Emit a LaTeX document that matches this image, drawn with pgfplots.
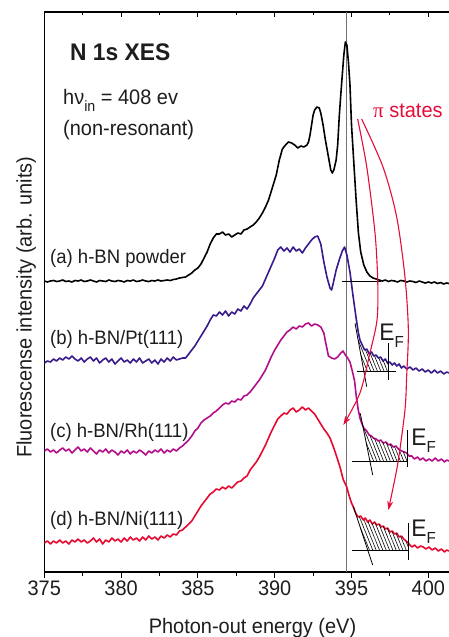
\documentclass[border=0pt]{standalone}
\usepackage{fontspec}
\setmainfont{Liberation Sans}[FakeStretch=0.95]
\newfontfamily\serifgr{Liberation Serif}
\usepackage{pgfplots}
\pgfplotsset{compat=1.18}
\usetikzlibrary{arrows.meta,patterns.meta}
\definecolor{cB}{RGB}{56,26,140}
\definecolor{cC}{RGB}{179,14,138}
\definecolor{cD}{RGB}{230,10,48}
\definecolor{cR}{RGB}{230,12,58}
\definecolor{txt}{RGB}{30,28,28}
\newcommand\fs[1]{\fontsize{#1}{#1}\selectfont}
\begin{document}
\begin{tikzpicture}
\pgfplotsset{common/.style={scale only axis, width=407.2pt, height=560pt,
  xmin=375, xmax=401.51, ymin=12, ymax=572, y dir=reverse,
  xtick={375,380,...,400}, minor x tick num=1, ytick=\empty,
  major tick length=5.5pt, minor tick length=3.5pt,
  tick style={line width=1pt, black}, no markers}}
\begin{axis}[common, name=ax, axis line style={line width=1.2pt},
  tick align=outside, xtick pos=left,
  /pgf/number format/assume math mode=true,
  xticklabel style={font=\fs{21}, text=txt},
  xlabel={Photon-out energy (eV)},
  xlabel style={font=\fs{21}, text=txt, at={(axis description cs:0.5113,-0.109)}, anchor=base},
  ylabel={Fluorescense intensity (arb. units)},
  ylabel style={font=\fs{21}, text=txt, at={(axis description cs:-0.0309,0.473)}, anchor=base},
  every axis plot/.append style={line join=round}]
% vertical reference line
\addplot[black!55, line width=1.1pt] coordinates {(394.65,12) (394.65,572)};
% (a) h-BN powder
\addplot[black, line width=1.6pt] coordinates {
(375.0,281)(375.2,282)(375.4,281)(375.6,280.5)(375.8,281.5)(376.0,281)(376.2,280)(376.4,281.5)(376.6,281)(376.8,282)
(377.0,280.5)(377.2,281)(377.4,280)(377.6,281.5)(377.8,281)(378.0,280)(378.2,281)(378.4,282)(378.6,280.5)(378.8,281)
(379.0,281.5)(379.2,280)(379.4,281)(379.6,281.5)(379.8,280.5)(380.0,281)(380.2,282)(380.4,280.5)(380.6,281)(380.8,280)
(381.0,281.5)(381.2,281)(381.4,280)(381.6,281)(381.8,281.5)(382.0,280.5)(382.2,281)(382.4,280)(382.6,281)(382.8,280.5)
(383.0,280)(383.2,280.5)(383.4,279.5)(383.6,279)(383.8,278)(384.0,277.5)(384.2,277)(384.4,275)(384.6,273)(384.8,270)
(385.0,268)(385.2,264)(385.4,258)(385.6,252)(385.8,244)(386.0,238)(386.2,234)(386.4,234)(386.6,232)(386.8,235)
(387.0,234)(387.2,237)(387.4,235)(387.6,233)(387.8,234)(388.0,230)(388.2,229)(388.4,227)(388.6,225)(388.8,222)
(389.0,218)(389.2,213)(389.4,207)(389.6,200)(389.8,190)(390.0,180)(390.1,175)(390.3,160)(390.5,149)(390.7,145)
(390.9,142)(391.1,143)(391.3,145)(391.5,148)(391.7,146)(391.9,147)(392.1,145)(392.2,142)(392.3,135)(392.4,125)
(392.5,115)(392.6,110)(392.75,107)(392.9,108)(393.0,113)(393.15,125)(393.3,140)(393.5,157)(393.65,170)(393.75,173)
(393.85,170)(394.0,160)(394.1,145)(394.2,117)(394.3,95)(394.4,75)(394.5,55)(394.6,42)(394.7,45)(394.8,62)
(394.9,85)(395.0,125)(395.1,150)(395.2,175)(395.3,200)(395.45,233)(395.6,252)(395.8,265)(396.0,272)(396.2,276)
(396.4,278)(396.6,279)(396.8,280)(397.0,281)(397.2,280)(397.4,281.5)(397.6,280.5)(397.8,281)(398.0,282)(398.2,280.5)
(398.4,281)(398.6,282)(398.8,281)(399.0,281.5)(399.2,282.5)(399.4,281)(399.6,282)(399.8,283)(400.0,282)(400.2,283)
(400.4,282)(400.6,283.5)(400.8,282.5)(401.0,284)(401.2,283)(401.35,283.5)};
% (b) h-BN/Pt(111)
\addplot[cB, line width=1.6pt] coordinates {
(375.0,363)(375.2,361)(375.4,362)(375.6,359)(375.8,361)(376.0,358)(376.2,360)(376.4,357)(376.6,359)(376.8,356)
(377.0,359)(377.2,361)(377.4,358)(377.6,362)(377.8,359)(378.0,357)(378.2,361)(378.4,358)(378.6,363)(378.8,360)
(379.0,358)(379.2,362)(379.4,359)(379.6,364)(379.8,361)(380.0,358)(380.2,362)(380.4,360)(380.6,363)(380.8,359)
(381.0,362)(381.2,358)(381.4,363)(381.6,361)(381.8,359)(382.0,363)(382.2,360)(382.4,364)(382.6,359)(382.8,362)
(383.0,358)(383.2,361)(383.4,357)(383.6,360)(383.8,359)(384.0,358)(384.2,358)(384.4,354)(384.6,350)(384.8,346)
(385.0,341)(385.2,336)(385.4,331)(385.6,326)(385.8,320)(386.0,315)(386.2,316)(386.4,312)(386.6,315)(386.8,311)
(387.0,316)(387.2,312)(387.4,314)(387.6,309)(387.8,311)(388.0,306)(388.2,309)(388.4,304)(388.6,298)(388.8,294)
(389.0,290)(389.2,286)(389.4,279)(389.6,272)(389.8,265)(390.0,258)(390.2,250)(390.4,247)(390.6,251)(390.8,248)
(391.0,252)(391.2,247)(391.4,251)(391.6,249)(391.8,253)(392.0,248)(392.2,244)(392.4,240)(392.6,237)(392.8,236)
(393.0,244)(393.2,262)(393.4,277)(393.6,288)(393.7,290)(393.8,284)(394.0,270)(394.2,260)(394.4,251)(394.55,247)
(394.7,255)(394.9,272)(395.1,296)(395.3,318)(395.45,333)(395.55,340)(395.7,345)(395.85,350)(396.0,349)(396.15,354)
(396.3,352)(396.45,356)(396.6,355)(396.75,358)(396.9,357)(397.05,361)(397.2,359)(397.35,363)(397.5,362)(397.65,365)
(397.8,363)(397.95,366)(398.1,364)(398.25,368)(398.4,366)(398.6,369)(398.8,367)(399.0,370)(399.2,368)(399.4,371)
(399.6,369)(399.8,372)(400.0,370)(400.2,373)(400.4,370)(400.6,373)(400.8,371)(401.0,374)(401.2,372)(401.35,373)};
% (c) h-BN/Rh(111)
\addplot[cC, line width=1.6pt] coordinates {
(375.0,451)(375.2,449)(375.4,452)(375.6,450)(375.8,453)(376.0,450)(376.2,448)(376.4,451)(376.6,449)(376.8,453)
(377.0,450)(377.2,447)(377.4,451)(377.6,449)(377.8,452)(378.0,448)(378.2,451)(378.4,454)(378.6,450)(378.8,452)
(379.0,449)(379.2,453)(379.4,450)(379.6,452)(379.8,455)(380.0,451)(380.2,453)(380.4,450)(380.6,454)(380.8,451)
(381.0,453)(381.2,450)(381.4,452)(381.6,455)(381.8,451)(382.0,453)(382.2,450)(382.4,452)(382.6,449)(382.8,453)
(383.0,450)(383.2,452)(383.4,449)(383.6,451)(383.8,448)(384.0,446)(384.2,443)(384.4,440)(384.6,436)(384.8,431)
(385.0,428)(385.2,423)(385.4,420)(385.6,418)(385.8,416)(386.0,413)(386.2,411)(386.4,408)(386.6,405)(386.8,403)
(387.0,404)(387.2,401)(387.4,402)(387.6,399)(387.8,400)(388.0,396)(388.2,395)(388.4,392)(388.6,388)(388.8,384)
(389.0,380)(389.2,375)(389.4,370)(389.6,363)(389.8,356)(390.0,350)(390.2,345)(390.4,340)(390.6,336)(390.8,332)
(391.0,330)(391.2,327)(391.4,329)(391.6,326)(391.8,327)(392.0,324)(392.2,323)(392.4,326)(392.6,324)(392.8,325)
(393.0,327)(393.2,333)(393.35,345)(393.5,356)(393.7,358)(393.9,359)(394.1,357)(394.3,353)(394.45,351)(394.6,355)
(394.75,358)(394.9,362)(395.0,368)(395.1,374)(395.2,381)(395.3,395)(395.44,410)(395.55,418)(395.66,423)(395.8,428)
(395.99,431)(396.15,435)(396.3,436)(396.42,438)(396.6,439)(396.75,441)(396.9,440)(397.07,443)(397.25,442)(397.4,445)
(397.55,444)(397.72,447)(397.9,446)(398.05,449)(398.27,451)(398.45,452)(398.59,453)(398.75,456)(398.92,456)(399.1,459)
(399.3,457)(399.46,460)(399.65,458)(399.85,461)(400.05,459)(400.25,461)(400.45,458)(400.65,461)(400.85,459)(401.05,462)
(401.2,460)(401.35,461)};
% (d) h-BN/Ni(111)
\addplot[cD, line width=1.6pt] coordinates {
(375.0,543)(375.2,541)(375.4,544)(375.6,541)(375.8,543)(376.0,540)(376.2,543)(376.4,541)(376.6,544)(376.8,540)
(377.0,542)(377.2,539)(377.4,542)(377.6,540)(377.8,543)(378.0,541)(378.2,538)(378.4,542)(378.6,539)(378.8,544)
(379.0,540)(379.2,542)(379.4,538)(379.6,541)(379.8,539)(380.0,542)(380.2,538)(380.4,541)(380.6,537)(380.8,540)
(381.0,538)(381.2,541)(381.4,537)(381.6,540)(381.8,536)(382.0,539)(382.2,537)(382.4,540)(382.6,536)(382.8,538)
(383.0,535)(383.2,537)(383.4,534)(383.6,535)(383.8,531)(384.0,530)(384.2,527)(384.4,524)(384.6,521)(384.8,516)
(385.0,511)(385.2,506)(385.4,502)(385.6,498)(385.8,494)(386.0,492)(386.2,489)(386.4,490)(386.6,487)(386.8,489)
(387.0,486)(387.2,488)(387.4,485)(387.6,482)(387.8,481)(388.0,478)(388.2,476)(388.4,470)(388.6,466)(388.8,462)
(389.0,457)(389.2,451)(389.4,445)(389.6,438)(389.8,431)(390.0,425)(390.2,419)(390.4,416)(390.6,413)(390.8,414)
(391.0,410)(391.2,408)(391.4,412)(391.6,410)(391.8,407)(392.0,410)(392.2,408)(392.4,411)(392.6,414)(392.8,419)
(393.0,424)(393.2,429)(393.4,433)(393.6,438)(393.8,446)(394.0,455)(394.25,467)(394.47,480)(394.6,484)(394.69,487)
(394.85,496)(395.0,503)(395.12,507)(395.3,514)(395.44,517)(395.6,516)(395.77,520)(395.9,518)(396.05,522)(396.2,520)
(396.35,524)(396.5,522)(396.64,525)(396.8,524)(396.95,527)(397.07,526)(397.2,529)(397.35,528)(397.5,532)(397.65,531)
(397.8,534)(397.95,533)(398.1,537)(398.25,536)(398.4,539)(398.55,541)(398.7,543)(398.8,545)(398.95,547)(399.1,545)
(399.3,548)(399.5,546)(399.67,547)(399.85,549)(400.05,547)(400.25,550)(400.45,548)(400.65,551)(400.85,549)(401.05,552)
(401.2,550)(401.35,551)};
% hatched regions
\addplot[draw=none, pattern={Lines[angle=-68,distance=3.1pt,line width=0.6pt]}] coordinates {
(395.81,371.7)(395.42,339.5)(395.55,340)(395.7,345)(395.85,350)(396.0,349)(396.15,354)(396.3,352)(396.45,356)(396.6,355)
(396.75,358)(396.9,357)(397.05,361)(397.2,359)(397.35,363)(397.4,363)(397.4,371.7)} -- cycle;
\addplot[draw=none, pattern={Lines[angle=-68,distance=3.1pt,line width=0.6pt]}] coordinates {
(396.20,461)(395.70,423)(395.8,428)(395.99,431)(396.15,435)(396.3,436)(396.42,438)(396.6,439)(396.75,441)(396.9,440)
(397.07,443)(397.25,442)(397.4,445)(397.55,444)(397.72,447)(397.9,446)(398.05,449)(398.27,451)(398.45,452)(398.59,453)
(398.66,453.5)(398.66,461)} -- cycle;
\addplot[draw=none, pattern={Lines[angle=-68,distance=3.1pt,line width=0.6pt]}] coordinates {
(396.06,550)(395.19,509)(395.3,514)(395.44,517)(395.6,516)(395.77,520)(395.9,518)(396.05,522)(396.2,520)(396.35,524)
(396.5,522)(396.64,525)(396.8,524)(396.95,527)(397.07,526)(397.2,529)(397.35,528)(397.5,532)(397.65,531)(397.8,534)
(397.95,533)(398.1,537)(398.25,536)(398.4,539)(398.55,541)(398.7,543)(398.7,550)} -- cycle;
% tangents, baselines, Fermi-level bars
\addplot[black, line width=0.8pt] coordinates {(394.4,281) (396.9,281)};
\addplot[black, line width=0.8pt] coordinates {(395.23,323.3) (395.99,386.7)};
\addplot[black, line width=0.8pt] coordinates {(395.33,371.7) (397.9,371.7)};
\addplot[black, line width=1.5pt] coordinates {(397.4,343) (397.4,380)};
\addplot[black, line width=0.8pt] coordinates {(395.57,413.3) (396.38,475)};
\addplot[black, line width=0.8pt] coordinates {(395.01,461) (398.70,461)};
\addplot[black, line width=1.5pt] coordinates {(398.66,430) (398.66,467)};
\addplot[black, line width=0.8pt] coordinates {(395.12,506.7) (396.38,565)};
\addplot[black, line width=0.8pt] coordinates {(395.01,550) (398.70,550)};
\addplot[black, line width=1.5pt] coordinates {(398.70,523) (398.70,560)};
% pi-state arrows
\addplot[cR, line width=1.1pt, smooth, -{Stealth[length=9pt,width=6pt]}] coordinates {
(395.40,119)(395.99,166.7)(396.53,233)(396.71,283)(396.66,320)(396.20,353)(395.55,393)(394.47,425)};
\addplot[cR, line width=1.1pt, smooth, -{Stealth[length=9pt,width=6pt]}] coordinates {
(395.66,119)(397.05,167)(397.94,217)(398.48,277)(398.70,330)(398.59,376.7)(398.48,410)(398.05,460)(397.72,486.7)(397.40,510)};
% texts
\node[anchor=base west, inner sep=0pt, text=txt, font=\fs{24}\bfseries] at (axis cs:376.67,60) {N 1s XES};
\node[anchor=base west, inner sep=0pt, text=txt, font=\fs{21}] at (axis cs:376.22,104) {hν\raisebox{-7pt}{\fs{15}in} = 408 ev};
\node[anchor=base west, inner sep=0pt, text=txt, font=\fs{21}] at (axis cs:376.22,135) {(non-resonant)};
\node[anchor=base west, inner sep=0pt, text=txt, font=\fs{19.5}] at (axis cs:375.37,263) {(a) h-BN powder};
\node[anchor=base west, inner sep=0pt, text=txt, font=\fs{19.5}] at (axis cs:375.37,344) {(b) h-BN/Pt(111)};
\node[anchor=base west, inner sep=0pt, text=txt, font=\fs{19.5}] at (axis cs:375.37,437.5) {(c) h-BN/Rh(111)};
\node[anchor=base west, inner sep=0pt, text=txt, font=\fs{19.5}] at (axis cs:375.37,525) {(d) h-BN/Ni(111)};
\node[anchor=base west, inner sep=0pt, text=cR, font=\fs{21}] at (axis cs:396.4,117) {{\serifgr π} states};
\node[anchor=base west, inner sep=0pt, text=txt, font=\fs{24}] at (axis cs:396.8,340) {E\raisebox{-7pt}{\fs{16}F}};
\node[anchor=base west, inner sep=0pt, text=txt, font=\fs{24}] at (axis cs:398.88,445) {E\raisebox{-7pt}{\fs{16}F}};
\node[anchor=base west, inner sep=0pt, text=txt, font=\fs{24}] at (axis cs:398.88,536) {E\raisebox{-7pt}{\fs{16}F}};
\end{axis}
\begin{axis}[common, axis line style={draw=none}, tick align=inside, xtick pos=right, xticklabels={}]
\addplot[draw=none] coordinates {(380,100)};
\end{axis}
\pgfresetboundingbox
\path ([shift={(-44.3pt,-65pt)}]ax.south west) rectangle ([shift={(404.7pt,572pt)}]ax.south west);
\end{tikzpicture}
\end{document}
